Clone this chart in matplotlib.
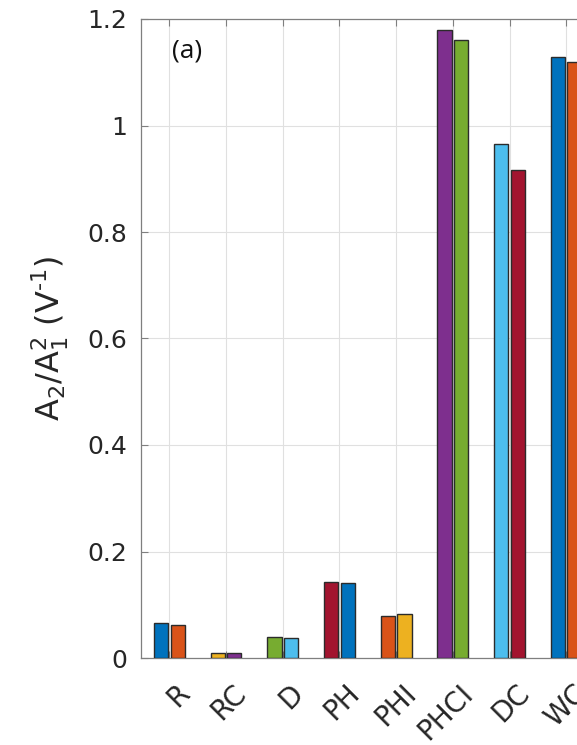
import matplotlib
matplotlib.use("Agg")
import matplotlib.pyplot as plt
import matplotlib.transforms as mtransforms
import numpy as np

categories = ["R", "RC", "D", "PH", "PHI", "PHCI", "DC", "WC"]
first_bar = [0.065, 0.009, 0.039, 0.142, 0.078, 1.179, 0.965, 1.128]
second_bar = [0.062, 0.010, 0.037, 0.141, 0.083, 1.161, 0.916, 1.119]

# MATLAB-style default colour order, cycled through bar by bar
palette = ["#0072BD", "#D95319", "#EDB120", "#7E2F8E", "#77AC30", "#4DBEEE", "#A2142F"]

plt.rcParams["font.family"] = ["DejaVu Sans"]
plt.rcParams["mathtext.fontset"] = "dejavusans"

W, H = 577, 745
fig = plt.figure(figsize=(W / 100, H / 100), dpi=100)
left_px, top_px, bottom_px = 141, 19, 658
step_px = 56.7
n = len(categories)
ax = fig.add_axes([left_px / W, 1 - bottom_px / H,
                   n * step_px / W, (bottom_px - top_px) / H])

x = np.arange(1, n + 1)
width = 0.25
offset = 0.146
colors1 = [palette[(2 * i) % 7] for i in range(n)]
colors2 = [palette[(2 * i + 1) % 7] for i in range(n)]
ax.bar(x - offset, first_bar, width, color=colors1, edgecolor="#2b2b2b",
       linewidth=1.0, zorder=3)
ax.bar(x + offset, second_bar, width, color=colors2, edgecolor="#2b2b2b",
       linewidth=1.0, zorder=3)

ax.set_xlim(0.5, n + 0.5)
ax.set_ylim(0, 1.2)
ax.set_yticks(np.arange(0, 1.21, 0.2))
ax.set_yticklabels(["0", "0.2", "0.4", "0.6", "0.8", "1", "1.2"])
ax.set_xticks(x)
ax.set_xticklabels([])

# rotated category labels, anchored at their right end below each tick
label_shift = mtransforms.ScaledTranslation(16 / 100, -31 / 100, fig.dpi_scale_trans)
for xi, name in zip(x, categories):
    ax.text(xi, 0, name, transform=ax.get_xaxis_transform() + label_shift,
            rotation=45, ha="right", va="center", rotation_mode="anchor",
            fontsize=20, color="#262626", clip_on=False)

ax.tick_params(axis="both", direction="in", labelsize=18, colors="#7f7f7f",
               labelcolor="#262626", length=5, width=0.8,
               top=True, right=True)
ax.tick_params(axis="y", pad=10)
ax.grid(True, color="#e0e0e0", linewidth=0.8, zorder=0)
ax.set_axisbelow(True)
for s in ax.spines.values():
    s.set_color("#7f7f7f")
    s.set_linewidth(0.9)

ax.set_ylabel(r"A$_2$/A$_1^2$ (V$^{\text{-}1}$)", fontsize=23, color="#262626",
              labelpad=12)

ax.text(172 / W, 1 - 51 / H, "(a)", transform=fig.transFigure,
        fontsize=19, family=["Open Sans", "DejaVu Sans"], color="#111111",
        va="center", ha="left")

fig.savefig("out.png", dpi=100)
